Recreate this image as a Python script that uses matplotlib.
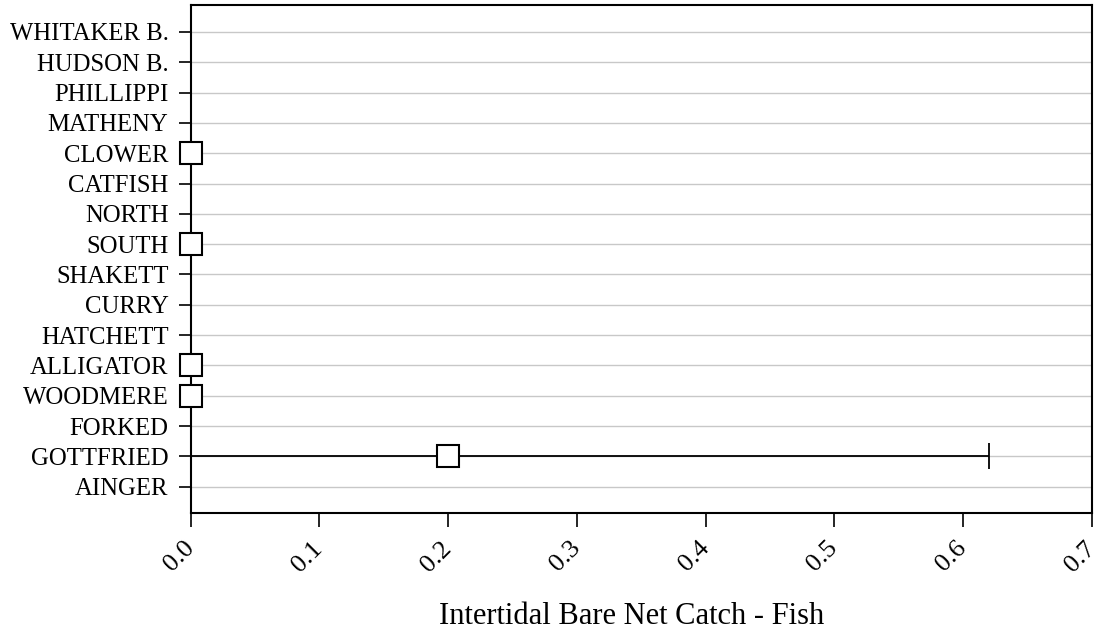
import matplotlib
matplotlib.use("Agg")
import matplotlib.pyplot as plt
import numpy as np

plt.rcParams['font.family'] = ['Liberation Serif', 'DejaVu Serif']

categories = ["AINGER", "GOTTFRIED", "FORKED", "WOODMERE", "ALLIGATOR", "HATCHETT",
              "CURRY", "SHAKETT", "SOUTH", "NORTH", "CATFISH", "CLOWER",
              "MATHENY", "PHILLIPPI", "HUDSON B.", "WHITAKER B."]
# mean values (None = no data)
means = [None, 0.2, None, 0.0, 0.0, None, None, None, 0.0, None, None, 0.0,
         None, None, None, None]
errs = [None, 0.42, None, 0.0, 0.0, None, None, None, 0.0, None, None, 0.0,
        None, None, None, None]
xticks = [0.0, 0.1, 0.2, 0.3, 0.4, 0.5, 0.6, 0.7]

W, H = 1103, 637
fig = plt.figure(figsize=(W / 100, H / 100), dpi=100)
ax = fig.add_axes([190.7 / W, 1 - 513 / H, (1092 - 190.7) / W, (513 - 5) / H])

ypos = np.arange(len(categories))
for y in ypos:
    ax.axhline(y, color='#c8c8c8', lw=1.0, zorder=0)

for i, (m, e) in enumerate(zip(means, errs)):
    if m is None:
        continue
    if e and e > 0:
        ax.errorbar([m], [i], xerr=[e], fmt='none', ecolor='black', elinewidth=1.3,
                    capsize=9.5, capthick=1.3, zorder=2)
    ax.plot([m], [i], marker='s', markersize=16, markerfacecolor='white',
            markeredgecolor='black', markeredgewidth=1.5, linestyle='none',
            clip_on=False, zorder=5)

ax.set_xlim(0, 0.7)
ax.set_ylim(-0.87, 15.89)
ax.set_yticks(ypos)
ax.set_yticklabels(categories, fontsize=17.8)
ax.set_xticks(xticks)
ax.set_xticklabels([f"{v:.1f}" for v in xticks], rotation=45, fontsize=19,
                   ha='right', va='center', rotation_mode='anchor')
ax.tick_params(axis='y', direction='out', length=9, width=1.2, pad=7)
ax.tick_params(axis='x', direction='out', length=10, width=1.2, pad=13)
for s in ax.spines.values():
    s.set_linewidth(1.5)

fig.text(632 / W, 1 - 616 / H, "Intertidal Bare Net Catch - Fish", fontsize=22,
         ha='center', va='center')

fig.savefig("out.png", dpi=100)
